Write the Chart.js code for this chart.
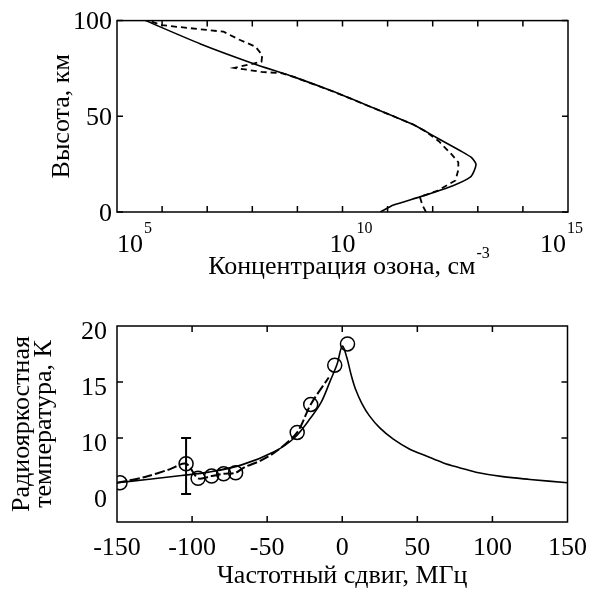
<!DOCTYPE html>
<html>
<head>
<meta charset="utf-8">
<script src="https://cdn.jsdelivr.net/npm/chart.js@4.4.1/dist/chart.umd.min.js"></script>
<style>
  body { margin: 0; background: #fff; }
  #wrap { position: relative; width: 598px; height: 592px; }
  canvas { position: absolute; left: 0; }
  #ozoneChart { top: 0; }
  #tempChart { top: 300px; }
</style>
</head>
<body>
<div id="wrap">
  <canvas id="ozoneChart" width="598" height="300"></canvas>
  <canvas id="tempChart" width="598" height="292"></canvas>
</div>
<script>
// --- верхний график: профиль озона ---
const solidHeight = [100, 87.8, 77.5, 70.6, 62.9, 54.3, 45.7, 38.8, 32.0, 28.5, 25.1, 21.5, 18.2, 13.9, 7.9, 3.6, 0];
const solidOzone  = [4.3e5, 7.1e6, 1.07e8, 8.3e8, 6.3e9, 4.9e10, 3.7e11, 1.23e12, 4.1e12, 7.2e12, 9.1e12, 8.3e12, 6.8e12, 2.9e12, 5.2e11, 1.35e11, 6.9e10];

const dashHeight = [0, 3.6, 7.9, 11, 16.5, 22, 26, 30.2, 37.1, 42, 45.7, 54.3, 62.9, 70.6, 72.5, 73.2, 75.3, 78.5, 82, 86.4, 90, 94.2, 97.6, 100];
const dashOzone  = [7.1e11, 5.9e11, 5.2e11, 1.26e12, 3.2e12, 3.7e12, 3.7e12, 2.6e12, 1.35e12, 7.1e11, 3.7e11, 4.9e10, 6.3e9, 8.3e8, 4.5e8, 1.6e8, 4.0e7, 1.6e8, 1.66e8, 1.17e8, 5.2e7, 2.3e7, 1.0e6, 5.0e5];

const ozoneLabelTicks = [1e5, 1e10, 1e15];
const ozoneLabelExp   = ['5', '10', '15'];
const ozoneMinorTicks = [1e6, 1e7, 1e8, 1e9, 1e10, 1e11, 1e12, 1e13, 1e14];
const heightTicks     = [0, 50, 100];

// --- нижний график: спектр ---
const shiftModel = [-150, -130, -107, -89, -67, -45, -32, -21, -14, -8, -3.4, 0, 3, 6, 9, 13, 18, 25, 34, 45, 56, 67, 78, 89, 107, 125, 150];
const tempModel  = [6.0, 6.3, 6.65, 6.95, 7.6, 8.8, 10.0, 11.8, 13.2, 15.1, 16.6, 18.2, 17.2, 15.6, 14.3, 13.1, 12.0, 10.9, 9.9, 9.0, 8.4, 7.8, 7.35, 6.95, 6.55, 6.3, 6.0];

const shiftFit = [-150, -132, -115, -104, -96, -87, -79, -71, -65, -54, -43, -30, -21, -9];
const tempFit  = [6.0, 6.5, 7.2, 7.7, 6.4, 6.6, 6.8, 6.9, 7.4, 8.0, 8.9, 10.5, 13.0, 15.4];

const shiftObs = [-148, -104, -96, -87, -79, -71, -30, -21, -5, 3.5];
const tempObs  = [6.0, 7.7, 6.4, 6.6, 6.8, 6.9, 10.5, 13.0, 16.5, 18.4];

const errShift = [-104, -104];
const errTemp  = [5, 10];

const shiftTicks    = [-150, -100, -50, 0, 50, 100, 150];
const tempTicks     = [5, 10, 15, 20];
const tempTickText  = ['0', '10', '15', '20'];

const FONT = '"Liberation Serif", "Times New Roman", Times, serif';
const FS = 26;
const TICK = 6;

function pts(xs, ys) {
    return xs.map((v, i) => ({ x: v, y: ys[i] }));
}

// рамка и внутренние засечки
function frameTicks(xVals, yVals) {
    return {
        id: 'frameTicks',
        afterDatasetsDraw(chart) {
            const { ctx, chartArea: a, scales: { x, y } } = chart;
            ctx.save();
            ctx.strokeStyle = '#000';
            ctx.lineWidth = 1.5;
            ctx.strokeRect(a.left, a.top, a.right - a.left, a.bottom - a.top);
            ctx.beginPath();
            xVals.forEach(v => {
                const px = x.getPixelForValue(v);
                ctx.moveTo(px, a.top); ctx.lineTo(px, a.top + TICK);
                ctx.moveTo(px, a.bottom); ctx.lineTo(px, a.bottom - TICK);
            });
            yVals.forEach(v => {
                const py = y.getPixelForValue(v);
                ctx.moveTo(a.left, py); ctx.lineTo(a.left + TICK, py);
                ctx.moveTo(a.right, py); ctx.lineTo(a.right - TICK, py);
            });
            ctx.stroke();
            ctx.restore();
        }
    };
}

// подписи 10^n и заголовок со степенью
const ozoneAxis = {
    id: 'ozoneAxis',
    afterDraw(chart) {
        const { ctx, chartArea: a, scales: { x } } = chart;
        const base = FS + 'px ' + FONT;
        const sup = '16px ' + FONT;
        ctx.save();
        ctx.fillStyle = '#000';
        ctx.textAlign = 'left';
        ctx.textBaseline = 'alphabetic';
        ozoneLabelTicks.forEach((v, i) => {
            ctx.font = base;
            const wb = ctx.measureText('10').width;
            ctx.font = sup;
            const ws = ctx.measureText(ozoneLabelExp[i]).width;
            let left = x.getPixelForValue(v) - wb / 2;
            left = Math.max(a.left, Math.min(left, chart.width - 16 - wb - ws));
            ctx.font = base;
            ctx.fillText('10', left, a.bottom + 40);
            ctx.font = sup;
            ctx.fillText(ozoneLabelExp[i], left + wb + 1, a.bottom + 21);
        });

        const title = 'Концентрация озона, см';
        const power = '-3';
        ctx.font = base;
        const wt = ctx.measureText(title).width;
        ctx.font = sup;
        const wp = ctx.measureText(power).width;
        const start = (a.left + a.right) / 2 - (wt + wp) / 2 + 6;
        ctx.font = base;
        ctx.fillText(title, start, a.bottom + 62);
        ctx.font = sup;
        ctx.fillText(power, start + wt + 1, a.bottom + 46);
        ctx.restore();
    }
};

function draw() {
    new Chart(document.getElementById('ozoneChart'), {
        type: 'scatter',
        data: {
            datasets: [
                {
                    data: pts(solidOzone, solidHeight),
                    showLine: true,
                    borderColor: '#000',
                    borderWidth: 1.6,
                    pointRadius: 0,
                    tension: 0.2
                },
                {
                    data: pts(dashOzone, dashHeight),
                    showLine: true,
                    borderColor: '#000',
                    borderWidth: 1.8,
                    borderDash: [6, 4],
                    pointRadius: 0,
                    tension: 0
                }
            ]
        },
        options: {
            responsive: false,
            animation: false,
            devicePixelRatio: 1,
            layout: { padding: { left: 0, right: 30, top: 18, bottom: 0 } },
            plugins: { legend: { display: false }, tooltip: { enabled: false } },
            scales: {
                x: {
                    type: 'logarithmic',
                    min: 1e5,
                    max: 1e15,
                    grid: { display: false, drawTicks: false },
                    border: { display: false },
                    ticks: { display: false },
                    afterFit(scale) { scale.height = 88; }
                },
                y: {
                    min: 0,
                    max: 100,
                    grid: { display: false, drawTicks: false },
                    border: { display: false },
                    afterBuildTicks(scale) { scale.ticks = heightTicks.map(v => ({ value: v })); },
                    ticks: { color: '#000', padding: 5, labelOffset: 2, font: { family: FONT, size: FS } },
                    title: {
                        display: true,
                        text: 'Высота, км',
                        color: '#000',
                        padding: { top: 47, bottom: 0 },
                        font: { family: FONT, size: FS }
                    },
                    afterFit(scale) { scale.width = 117; }
                }
            }
        },
        plugins: [frameTicks(ozoneMinorTicks, heightTicks), ozoneAxis]
    });

    new Chart(document.getElementById('tempChart'), {
        type: 'scatter',
        data: {
            datasets: [
                {
                    data: pts(shiftModel, tempModel),
                    showLine: true,
                    borderColor: '#000',
                    borderWidth: 1.6,
                    pointRadius: 0,
                    tension: 0.35
                },
                {
                    data: pts(shiftFit, tempFit),
                    showLine: true,
                    borderColor: '#000',
                    borderWidth: 2,
                    borderDash: [10, 3],
                    pointRadius: 0,
                    tension: 0.3
                },
                {
                    data: pts(shiftObs, tempObs),
                    showLine: false,
                    pointStyle: 'circle',
                    pointRadius: 7,
                    borderColor: '#000',
                    borderWidth: 1.5,
                    backgroundColor: 'rgba(255,255,255,0)'
                },
                {
                    data: pts(errShift, errTemp),
                    showLine: true,
                    borderColor: '#000',
                    borderWidth: 2,
                    pointStyle: 'line',
                    pointRadius: 5,
                    pointBorderWidth: 2
                }
            ]
        },
        options: {
            responsive: false,
            animation: false,
            devicePixelRatio: 1,
            layout: { padding: { left: 0, right: 29, top: 26, bottom: 0 } },
            plugins: { legend: { display: false }, tooltip: { enabled: false } },
            scales: {
                x: {
                    min: -150,
                    max: 150,
                    grid: { display: false, drawTicks: false },
                    border: { display: false },
                    afterBuildTicks(scale) { scale.ticks = shiftTicks.map(v => ({ value: v })); },
                    ticks: { color: '#000', padding: 11, autoSkip: false, maxRotation: 0, font: { family: FONT, size: FS } },
                    title: {
                        display: true,
                        text: 'Частотный сдвиг, МГц',
                        color: '#000',
                        padding: { top: 0, bottom: 0 },
                        font: { family: FONT, size: FS }
                    },
                    afterFit(scale) { scale.height = 70; }
                },
                y: {
                    min: 2.5,
                    max: 20,
                    grid: { display: false, drawTicks: false },
                    border: { display: false },
                    afterBuildTicks(scale) { scale.ticks = tempTicks.map(v => ({ value: v })); },
                    ticks: {
                        color: '#000',
                        padding: 10,
                        labelOffset: 6,
                        font: { family: FONT, size: FS },
                        callback: v => tempTickText[tempTicks.indexOf(v)]
                    },
                    title: {
                        display: true,
                        text: ['Радиояркостная', 'температура, К'],
                        color: '#000',
                        padding: { top: 11, bottom: 0 },
                        font: { family: FONT, size: FS, lineHeight: '22px' }
                    },
                    afterFit(scale) { scale.width = 117; }
                }
            }
        },
        plugins: [frameTicks([-100, -50, 0, 50, 100], [10, 15])]
    });
}

if (document.fonts && document.fonts.load) {
    document.fonts.load('26px "Liberation Serif"').then(draw, draw);
} else {
    draw();
}
</script>
</body>
</html>
